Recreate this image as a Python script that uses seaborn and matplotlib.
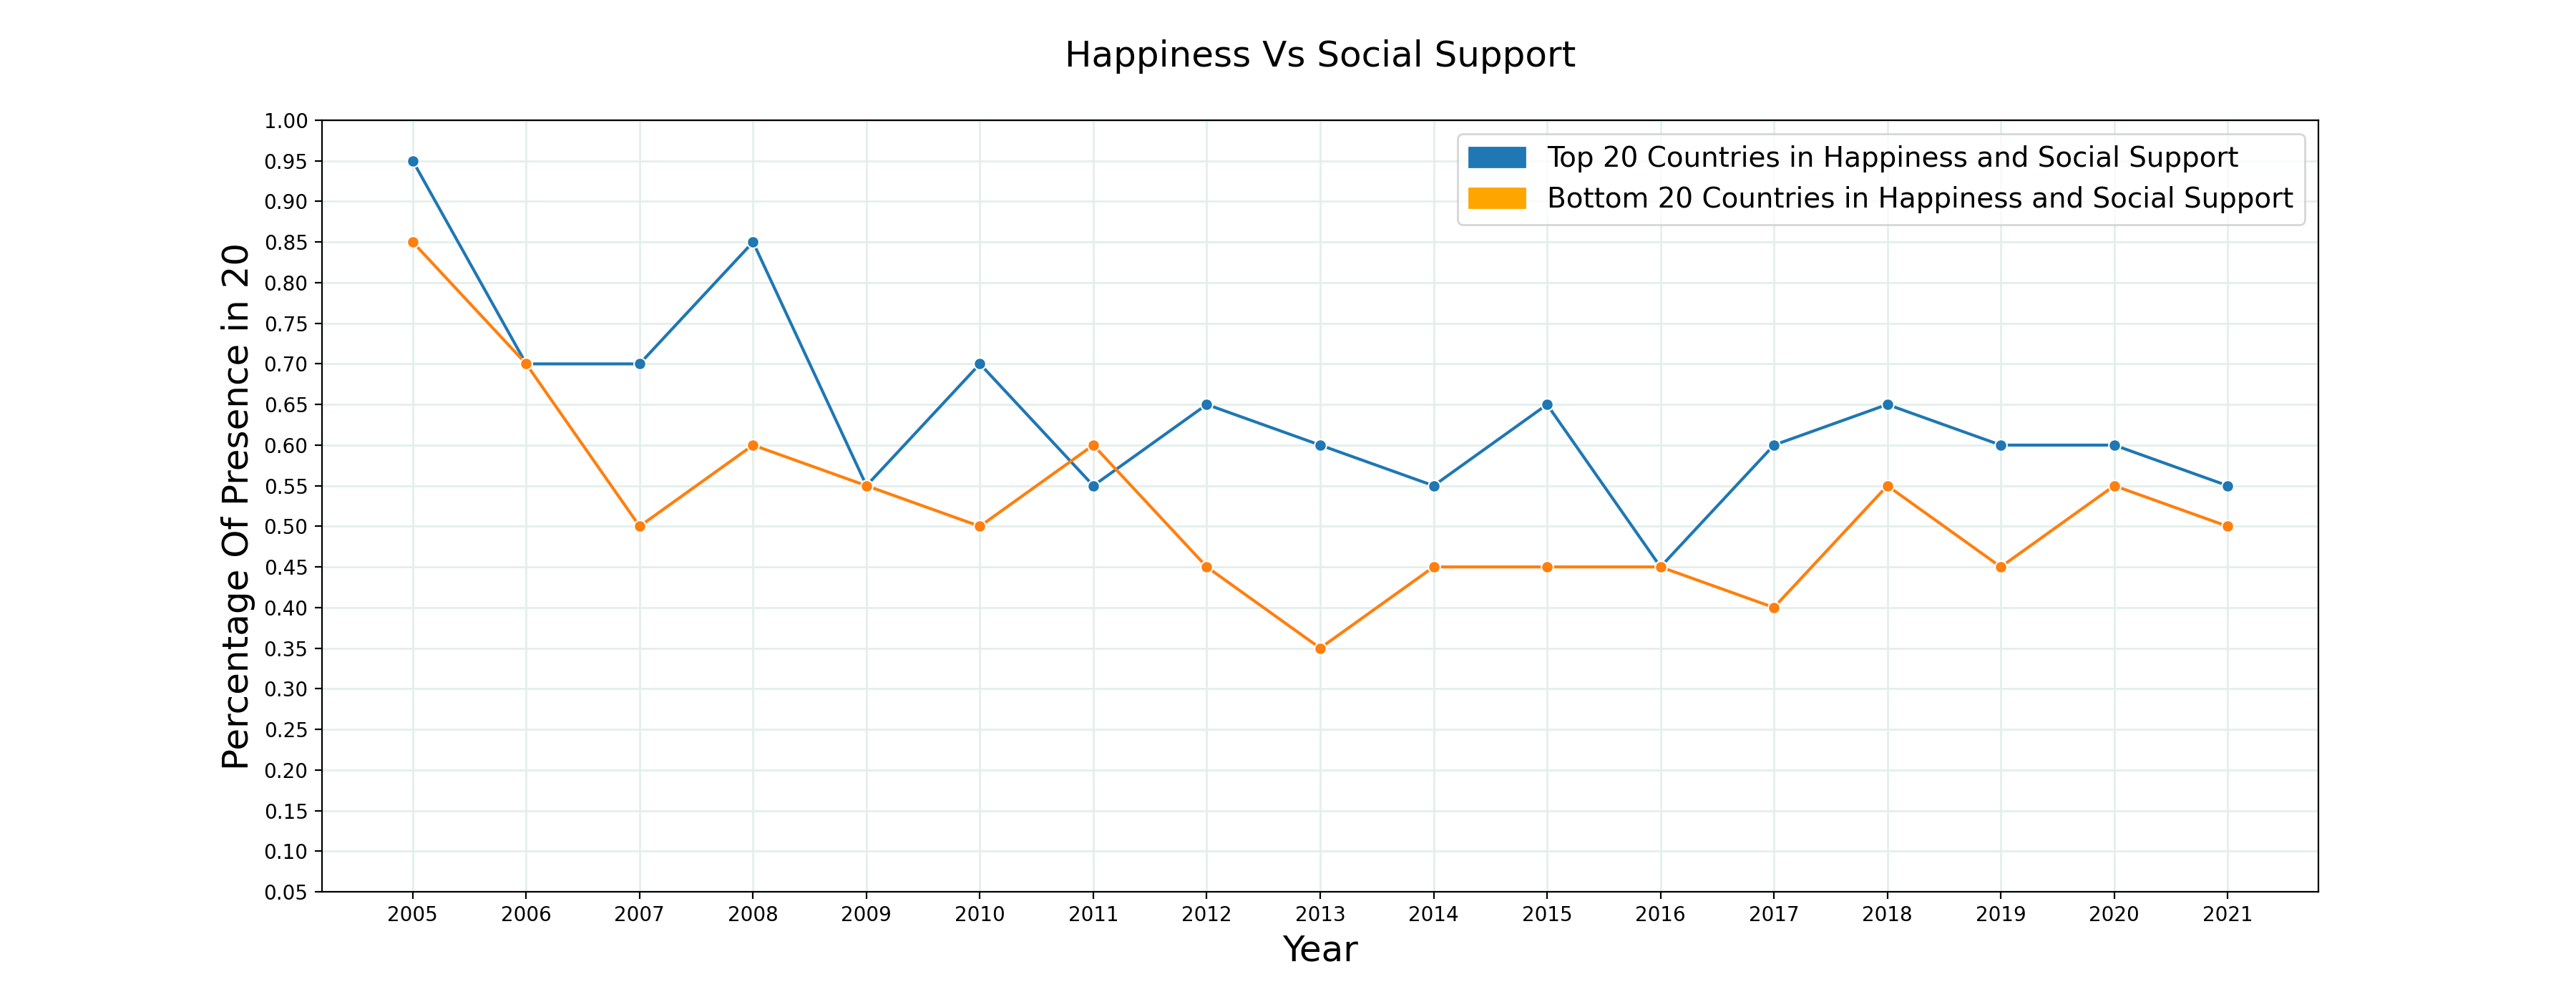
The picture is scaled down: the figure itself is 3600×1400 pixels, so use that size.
import matplotlib
matplotlib.use("Agg")
import matplotlib.pyplot as plt
import matplotlib.patches as mpatches
import numpy as np
import pandas as pd
import seaborn as sns

years = list(range(2005, 2022))
top20 = [0.95, 0.70, 0.70, 0.85, 0.55, 0.70, 0.55, 0.65, 0.60, 0.55, 0.65, 0.45, 0.60, 0.65, 0.60, 0.60, 0.55]
bottom20 = [0.85, 0.70, 0.50, 0.60, 0.55, 0.50, 0.60, 0.45, 0.35, 0.45, 0.45, 0.45, 0.40, 0.55, 0.45, 0.55, 0.50]
yticks = np.round(np.arange(0.05, 1.0001, 0.05), 2)

df = pd.DataFrame({"Year": years, "Top": top20, "Bottom": bottom20})

fig = plt.figure(figsize=(18, 7), dpi=200)
ax = plt.gca()
ax.grid(True, color='#e3efeb', linewidth=1.0, zorder=0)
ax.set_axisbelow(True)
sns.lineplot(data=df, x="Year", y="Top", marker='o', color='#1f77b4', ax=ax)
sns.lineplot(data=df, x="Year", y="Bottom", marker='o', color='#ff7f0e', ax=ax)

ax.set_xticks(years)
ax.set_yticks(yticks)
ax.set_ylim(0.05, 1.0)
ax.tick_params(labelsize=10)
ax.set_title("Happiness Vs Social Support", fontsize=18, pad=27)
ax.set_xlabel("Year", fontsize=18)
ax.set_ylabel("Percentage Of Presence in 20", fontsize=18)

top_patch = mpatches.Patch(color='#1f77b4', label='Top 20 Countries in Happiness and Social Support')
bottom_patch = mpatches.Patch(color='orange', label='Bottom 20 Countries in Happiness and Social Support')
ax.legend(handles=[top_patch, bottom_patch], loc='upper right', fontsize=14)

plt.savefig("out.png")
